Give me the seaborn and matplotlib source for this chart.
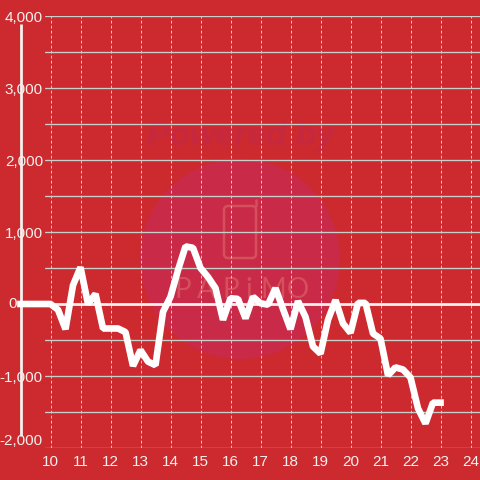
import pandas as pd
import seaborn as sns
import matplotlib
matplotlib.use("Agg")
import matplotlib.pyplot as plt
from matplotlib.patches import Circle, FancyBboxPatch
from matplotlib.transforms import offset_copy

hours = [9, 9.25, 9.5, 9.75, 10, 10.25, 10.5, 10.75, 11, 11.25, 11.5, 11.75, 12, 12.25,
         12.5, 12.75, 13, 13.25, 13.5, 13.75, 14, 14.25, 14.5, 14.75, 15, 15.25, 15.5,
         15.75, 16, 16.25, 16.5, 16.75, 17, 17.25, 17.5, 17.75, 18, 18.25, 18.5, 18.75,
         19, 19.25, 19.5, 19.75, 20, 20.25, 20.5, 20.75, 21, 21.25, 21.5, 21.75, 22,
         22.25, 22.5, 22.75, 23]
values = [0, 0, 0, 0, 0, -80, -350, 260, 510, 0, 140, -340, -340, -340, -390, -860,
          -640, -800, -850, -110, 100, 470, 800, 780, 500, 375, 220, -220, 80, 70,
          -200, 100, 10, -10, 220, -70, -350, 40, -180, -590, -690, -220, 55, -270,
          -400, 15, 15, -410, -480, -990, -880, -910, -1020, -1450, -1660, -1370, -1370]
x_ticks = list(range(10, 25))
y_major = [-2000, -1000, 0, 1000, 2000, 3000, 4000]
y_minor = [-1500, -500, 500, 1500, 2500, 3500]
y_labels = ["-2,000", "-1,000", "0", "1,000", "2,000", "3,000", "4,000"]
logo_letters = ["P", "A", "P", "i", "M", "O"]

BG = "#cc2a2e"
W = "#f5f0ee"
GRID = "#c9d0cc"
LOGO = "#d4505c"

sns.set_theme(style="white")
plt.rcParams["font.family"] = ["Liberation Sans", "DejaVu Sans"]

fig = plt.figure(figsize=(4.8, 4.8), dpi=100, facecolor=BG)
ax = fig.add_axes([45 / 480, 1 - 448 / 480, 435 / 480, 432 / 480], facecolor=BG)
ax.set_xlim(10 - 5.5 / 30, 24 + 9.5 / 30)
ax.set_ylim(-2000, 4000)
sns.despine(ax=ax, left=True, bottom=True, top=True, right=True)

# faint logo behind the grid
ow = fig.add_axes([0, 0, 1, 1], facecolor="none", zorder=0.5)
ow.set_xlim(0, 480); ow.set_ylim(480, 0); ow.axis("off")
ow.add_patch(Circle((240, 259), 100, fc="#c92a48", ec="none"))
ow.add_patch(FancyBboxPatch((224, 206), 32, 52, boxstyle="round,pad=0,rounding_size=4",
                            fc="none", ec=LOGO, lw=1.8))
ow.plot([255.5, 255.5], [200, 206], color=LOGO, lw=1.8, solid_capstyle="round")
ow.text(241, 136, "Powered by", color="#c6293f", fontsize=24, style="italic",
        fontweight="bold", ha="center", va="center")
for px, letter in zip([183, 206, 231, 249, 273, 298], logo_letters):
    ow.text(px, 290, letter, color=LOGO, fontsize=20, ha="center", va="center", family="Lato")
ax.set_zorder(1)
ax.patch.set_alpha(0)

ax.set_xticks(x_ticks)
ax.set_yticks(y_major)
ax.set_yticks(y_minor, minor=True)
ax.set_yticklabels(y_labels)
ax.grid(True, axis="x", color=GRID, lw=0.72, ls=(0, (2.8, 2.2)))
ax.grid(True, axis="y", which="both", color=GRID, lw=0.95, ls="-")
ax.set_axisbelow(True)
ax.tick_params(axis="both", which="both", length=0, labelsize=11, colors=W)
ax.tick_params(axis="y", pad=1.5)
ax.tick_params(axis="x", pad=5)
ax.get_yticklabels()[0].set_va("bottom")

# the "0" label sits left of the axis line in the reference
zero_lab = ax.get_yticklabels()[2]
zero_lab.set_visible(False)
ax.text(9, 0, y_labels[2], color=W, fontsize=11, ha="right", va="center", clip_on=False,
        transform=offset_copy(ax.transData, fig=fig, x=-4, y=0, units="dots"))

ax.axhline(0, color=W, lw=2, zorder=3)
ax.plot([9, 9], [-1833, 3889], color=W, lw=2, clip_on=False, solid_capstyle="butt", zorder=3)

df = pd.DataFrame({"hour": hours, "value": values})
sns.lineplot(data=df, x="hour", y="value", ax=ax, color="white", lw=4.8, clip_on=False,
             solid_capstyle="projecting", solid_joinstyle="bevel", zorder=4,
             errorbar=None, estimator=None)
ax.set_xlabel(""); ax.set_ylabel("")
fig.savefig("out.png", dpi=100, facecolor=BG)
